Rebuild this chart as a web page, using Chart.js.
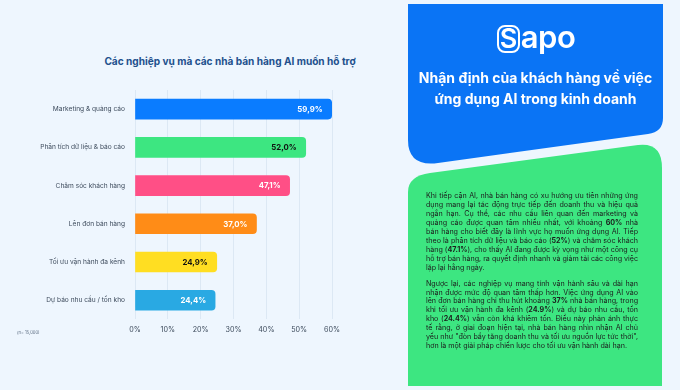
<!DOCTYPE html>
<html><head><meta charset="utf-8">
<script src="https://cdn.jsdelivr.net/npm/chart.js@4.4.1/dist/chart.umd.min.js"></script>
<style>
html,body{margin:0;padding:0;}
body{width:680px;height:390px;background:#eef6fe;position:relative;overflow:hidden;font-family:Inter,"Noto Sans",sans-serif;}
#title{position:absolute;left:0;width:460px;top:55px;text-align:center;font-size:10.1px;font-weight:700;color:#22508d;}
#note{position:absolute;left:17px;top:330px;font-size:4.2px;color:#5a6b80;}
#wrap{position:absolute;left:0;top:0;width:360px;height:340px;}
svg{position:absolute;left:0;top:0;}
#logo{position:absolute;left:496px;top:18px;width:80px;text-align:center;color:#fff;font-size:31px;font-weight:600;letter-spacing:-0.5px;}
#logo span{display:inline-block;border:2.5px solid #fff;border-radius:8px;line-height:24px;padding:0 1px;margin-right:1px;font-size:27px;}
#head{position:absolute;left:408px;width:255px;top:67px;text-align:center;color:#fff;font-size:14px;font-weight:700;line-height:21px;}
#body{position:absolute;left:426px;width:212px;top:192px;color:#1c1c1c;font-size:7.12px;line-height:8.95px;text-align:justify;}
#body p{margin:0 0 7px 0;}
#body b{font-weight:700;}
</style></head>
<body>
<div id="title">Các nghiệp vụ mà các nhà bán hàng AI muốn hỗ trợ</div>
<div id="wrap"><canvas id="c" width="360" height="340"></canvas></div>
<div id="note">(n= 15,000)</div>
<svg width="680" height="390">
  <path d="M408,4 H663 V118 Q663,132 648,134 L438,163 Q408,167 408,140 Z" fill="#0a74f5"/>
  <path d="M408,192 Q408,176 430,173 L638,145 Q662,142 662,168 V386 H408 Z" fill="#3de681"/>
</svg>
<div id="logo"><span>S</span>apo</div>
<div id="head">Nhận định của khách hàng về việc<br>ứng dụng AI trong kinh doanh</div>
<div id="body">
<p>Khi tiếp cận AI, nhà bán hàng có xu hướng ưu tiên những ứng dụng mang lại tác động trực tiếp đến doanh thu và hiệu quả ngắn hạn. Cụ thể, các nhu cầu liên quan đến marketing và quảng cáo được quan tâm nhiều nhất, với khoảng <b>60%</b> nhà bán hàng cho biết đây là lĩnh vực họ muốn ứng dụng AI. Tiếp theo là phân tích dữ liệu và báo cáo (<b>52%</b>) và chăm sóc khách hàng (<b>47.1%</b>), cho thấy AI đang được kỳ vọng như một công cụ hỗ trợ bán hàng, ra quyết định nhanh và giảm tải các công việc lặp lại hằng ngày.</p>
<p>Ngược lại, các nghiệp vụ mang tính vận hành sâu và dài hạn nhận được mức độ quan tâm thấp hơn. Việc ứng dụng AI vào lên đơn bán hàng chỉ thu hút khoảng <b>37%</b> nhà bán hàng, trong khi tối ưu vận hành đa kênh (<b>24.9%</b>) và dự báo nhu cầu, tồn kho (<b>24.4%</b>) vẫn còn khá khiêm tốn. Điều này phản ánh thực tế rằng, ở giai đoạn hiện tại, nhà bán hàng nhìn nhận AI chủ yếu như "đòn bẩy tăng doanh thu và tối ưu nguồn lực tức thời", hơn là một giải pháp chiến lược cho tối ưu vận hành dài hạn.</p>
</div>
<script>
const categories = ["Marketing & quảng cáo","Phân tích dữ liệu & báo cáo","Chăm sóc khách hàng","Lên đơn bán hàng","Tối ưu vận hành đa kênh","Dự báo nhu cầu / tồn kho"];
const values = [59.9, 52.0, 47.1, 37.0, 24.9, 24.4];
const valueLabels = ["59,9%","52,0%","47,1%","37,0%","24,9%","24,4%"];
const xTickLabels = ["0%","10%","20%","30%","40%","50%","60%"];
const barColors = ["#0a7cff","#3de681","#ff4f86","#ff8c17","#ffde22","#29a9e3"];
const labelColors = ["#ffffff","#111111","#ffffff","#ffffff","#111111","#ffffff"];

const valueLabelPlugin = {
  id:'valueLabels',
  afterDatasetsDraw(chart){
    const ctx = chart.ctx;
    const meta = chart.getDatasetMeta(0);
    ctx.save();
    ctx.font = '700 7.8px Inter, "Noto Sans", sans-serif';
    ctx.textAlign = 'right';
    ctx.textBaseline = 'middle';
    meta.data.forEach((bar,i)=>{
      ctx.fillStyle = labelColors[i];
      ctx.fillText(valueLabels[i], bar.x - 9, bar.y + 0.5);
    });
    ctx.restore();
  }
};

new Chart(document.getElementById('c'), {
  type:'bar',
  data:{labels:categories, datasets:[{data:values, backgroundColor:barColors, borderRadius:4, borderSkipped:'start', barThickness:20}]},
  options:{
    indexAxis:'y', responsive:false, animation:false, devicePixelRatio:1,
    layout:{padding:{top:90,right:28,left:0,bottom:0}},
    plugins:{legend:{display:false}, tooltip:{enabled:false}},
    scales:{
      x:{min:0,max:60,
         ticks:{stepSize:10,padding:6,color:'#3d4b5c',font:{size:7.2,family:'Inter'},callback:(v,i)=>xTickLabels[i]},
         grid:{color:'#dce8f4',drawTicks:false}, border:{display:false}},
      y:{ticks:{padding:10,color:'#3d4b5c',font:{size:6.6,family:'Inter'}},
         grid:{display:false,drawTicks:false}, border:{display:false},
         afterFit(s){s.width=135;}}
    }
  },
  plugins:[valueLabelPlugin]
});
</script>
</body></html>
